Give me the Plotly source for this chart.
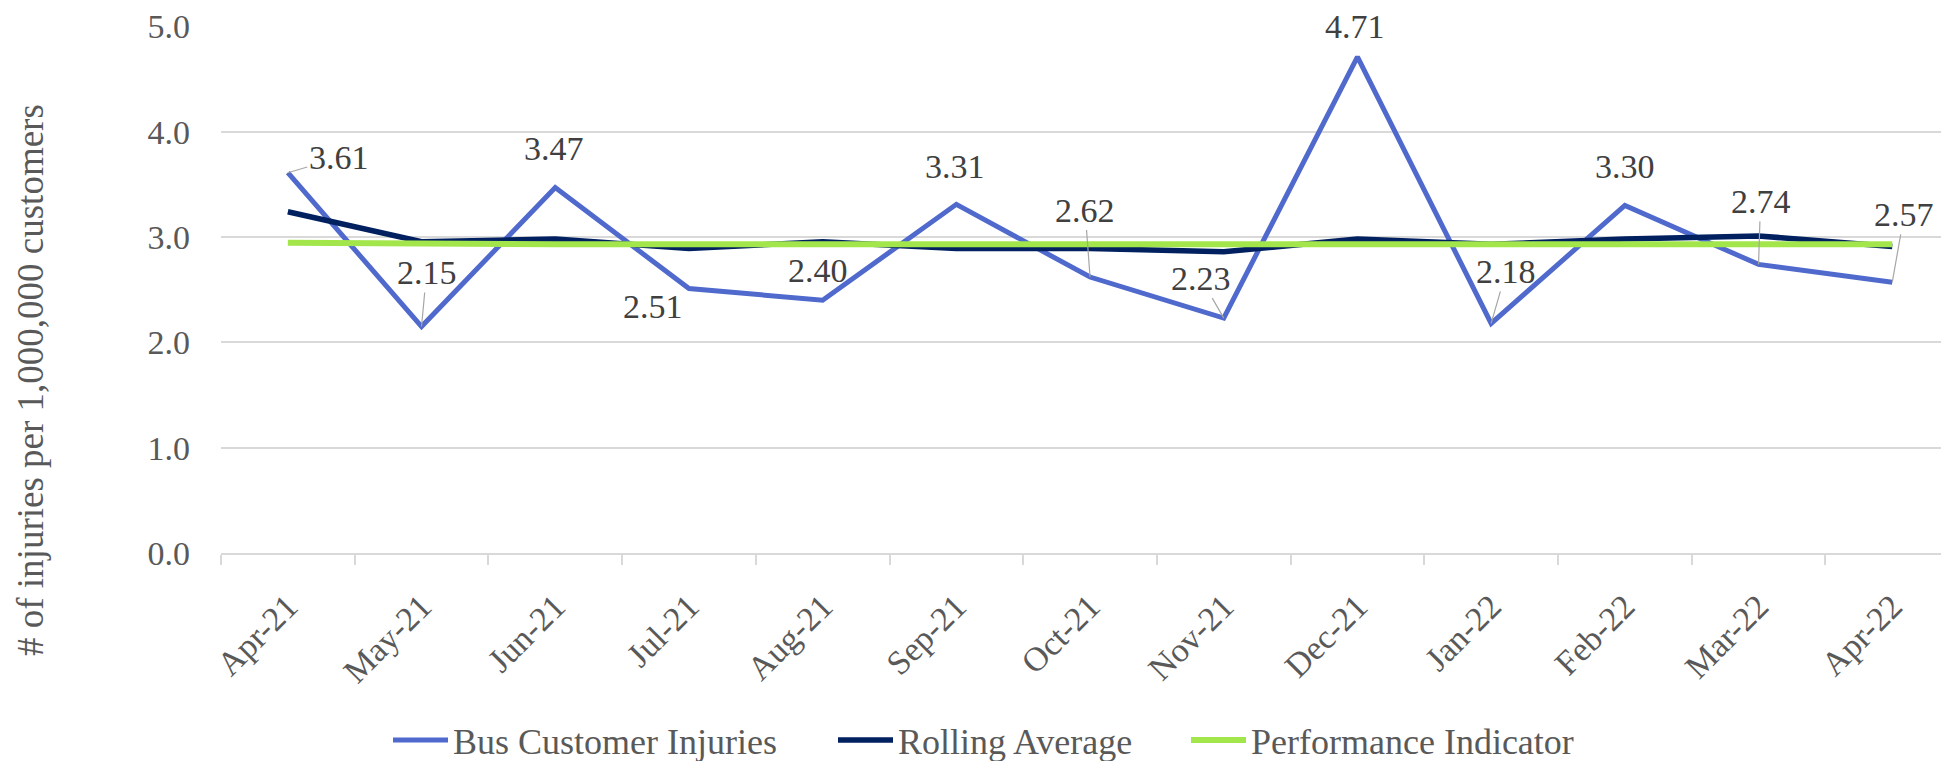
import plotly.graph_objects as go

months = ["Apr-21", "May-21", "Jun-21", "Jul-21", "Aug-21", "Sep-21", "Oct-21",
          "Nov-21", "Dec-21", "Jan-22", "Feb-22", "Mar-22", "Apr-22"]
bus_injuries = [3.61, 2.15, 3.47, 2.51, 2.40, 3.31, 2.62, 2.23, 4.71, 2.18, 3.30, 2.74, 2.57]
rolling_avg = [3.24, 2.955, 2.98, 2.89, 2.955, 2.89, 2.89, 2.86, 2.98, 2.93, 2.98, 3.01, 2.91]
perf_indicator = [2.946, 2.935, 2.93, 2.93, 2.93, 2.93, 2.93, 2.93, 2.93, 2.93, 2.93, 2.93, 2.93]

# label offsets in pixels (text centre relative to data point) and leader-line flags
label_dx = [51, 5, -1, -36, -5, -1, -5, -23, -2, 15, 0, 2, 12]
label_dy = [-15, -54, -39, 18, -30, -38, -67, -40, -30, -52, -39, -63, -68]
leader = [True, True, False, False, False, False, True, True, False, True, False, True, True]

FONT = "Liberation Serif, Times New Roman, serif"
W, H = 1941, 753
ML, MT = 213, 18
PH = 527
MB = H - MT - PH
PW = W - ML
cat_w = 133.7
x_end = -0.5 + PW / cat_w

def px_x(xs):
    return (xs - ML) / PW

def px_y(ys):
    return (MT + PH - ys) / PH

fig = go.Figure()
fig.add_trace(go.Scatter(x=months, y=bus_injuries, mode="lines", name="Bus Customer Injuries",
                         line=dict(color="#4F69CD", width=5), legend="legend"))
fig.add_trace(go.Scatter(x=months, y=rolling_avg, mode="lines", name="Rolling Average",
                         line=dict(color="#002060", width=5.5), legend="legend2"))
fig.add_trace(go.Scatter(x=months, y=perf_indicator, mode="lines", name="Performance Indicator",
                         line=dict(color="#A3E64C", width=6), legend="legend3"))

for m, v, dx, dy, ld in zip(months, bus_injuries, label_dx, label_dy, leader):
    fig.add_annotation(x=m, y=v, text=f"{v:.2f}", showarrow=True,
                       ax=dx, ay=dy, arrowhead=0, arrowwidth=1.2, standoff=0,
                       arrowcolor="#A6A6A6" if ld else "rgba(0,0,0,0)",
                       font=dict(family=FONT, size=34, color="#404040"))

fig.add_annotation(text="# of injuries per 1,000,000 customers", xref="paper", yref="paper",
                   x=px_x(22), y=px_y(372), textangle=-90, showarrow=False,
                   xanchor="center", yanchor="middle",
                   font=dict(family=FONT, size=37, color="#595959"))

leg_common = dict(orientation="h", xanchor="left", yanchor="middle", y=px_y(732),
                  font=dict(family=FONT, size=36, color="#595959"), itemwidth=55,
                  bgcolor="rgba(0,0,0,0)", borderwidth=0)

fig.update_layout(
    width=W, height=H,
    margin=dict(l=ML, r=0, t=MT, b=MB, autoexpand=False),
    plot_bgcolor="white", paper_bgcolor="white",
    font=dict(family=FONT, size=34, color="#595959"),
    showlegend=True,
    legend=dict(x=px_x(380), **leg_common),
    legend2=dict(x=px_x(825), **leg_common),
    legend3=dict(x=px_x(1178), **leg_common),
    xaxis=dict(type="category", range=[-0.5, x_end], showgrid=False,
               showline=True, linecolor="#D9D9D9", linewidth=2,
               ticks="outside", tickson="boundaries", ticklen=10, tickcolor="#D9D9D9", tickwidth=1.5,
               tickangle=-45, ticklabelstandoff=18,
               tickfont=dict(family=FONT, size=34, color="#595959")),
    yaxis=dict(range=[0, 5.003], tickvals=[0, 1, 2, 3, 4, 5], tickformat=".1f",
               showgrid=True, gridcolor="#D9D9D9",
               gridwidth=1.5, zeroline=False, showline=False, ticks="",
               ticklabelstandoff=30, ticklabeloverflow="allow",
               tickfont=dict(family=FONT, size=34, color="#595959")),
)

fig.write_html("out.html")
